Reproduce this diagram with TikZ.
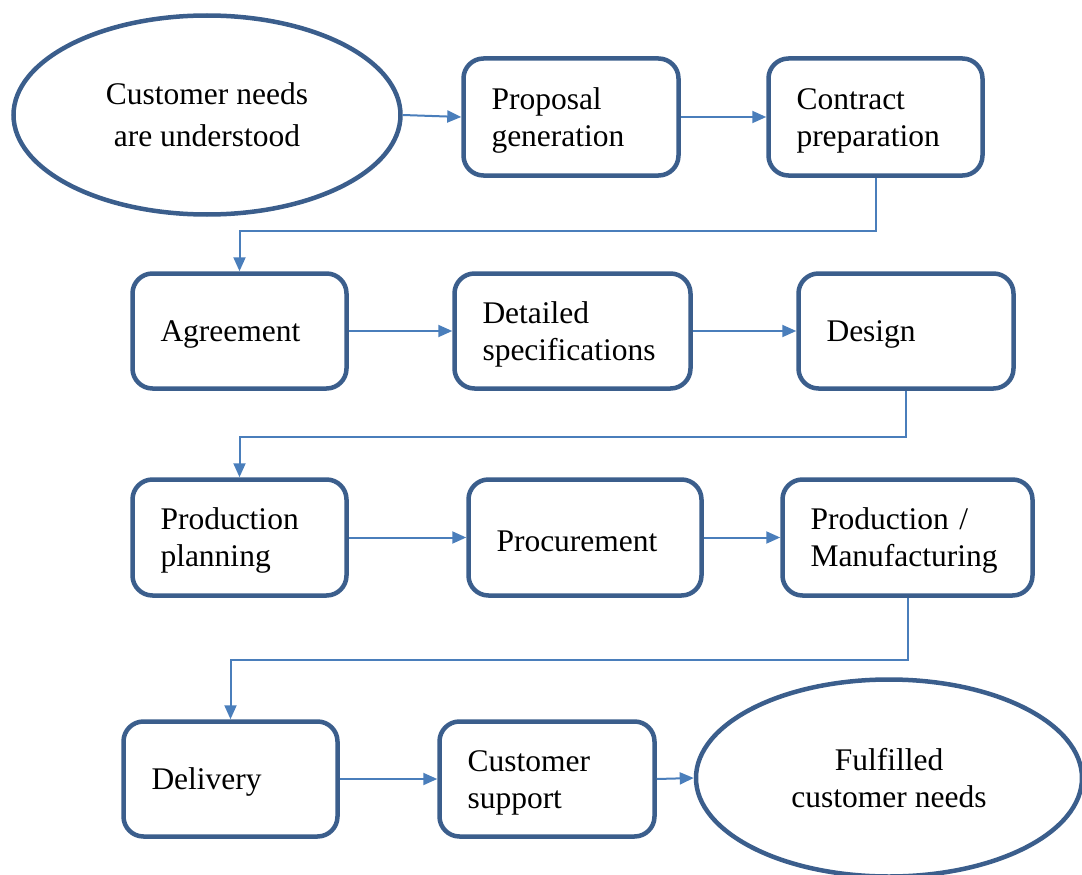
\documentclass[tikz,border=0pt]{standalone}
\usepackage{fontspec}
\setmainfont{Liberation Serif}
\usetikzlibrary{arrows.meta,shapes.geometric}
\definecolor{boxc}{HTML}{3B5E8C}
\definecolor{conc}{HTML}{4A7EBB}
\tikzset{
  stepbox/.style={draw=boxc, line width=4.5pt, rounded corners=20pt, fill=white,
    align=left, inner xsep=28pt, inner ysep=0pt,
    execute at begin node={\rule{0pt}{28pt}},
    font=\fontsize{31.5}{37}\selectfont},
  ovalnode/.style={ellipse, draw=boxc, line width=4.5pt, fill=white, align=center,
    inner sep=0pt, font=\fontsize{31.5}{37}\selectfont},
  conn/.style={draw=conc, line width=2pt, -{Triangle[length=14pt,width=12pt]}}
}
\begin{document}
\begin{tikzpicture}[x=1pt,y=-1pt]
\useasboundingbox (0,0) rectangle (1082,875);
\node[ovalnode, minimum width=387pt, minimum height=199pt,
  font=\fontsize{31.5}{42}\selectfont] (ell1) at (207,115) {Customer needs\\are understood};
\node[stepbox, text width=159pt, minimum height=117pt] (proposal) at (571,117) {Proposal\\generation};
\node[stepbox, text width=158pt, minimum height=117pt] (contract) at (875.5,117) {Contract\\preparation};

\node[stepbox, text width=158pt, minimum height=115pt] (agreement) at (239.5,331) {Agreement};
\node[stepbox, text width=180pt, minimum height=115pt] (detailed) at (572.5,331) {Detailed\\specifications};
\node[stepbox, text width=159pt, minimum height=115pt] (design) at (906,331) {Design};

\node[stepbox, text width=158pt, minimum height=116pt] (planning) at (239.5,537.5) {Production\\planning};
\node[stepbox, text width=177pt, minimum height=116pt] (procurement) at (585,537.5) {Procurement};
\node[stepbox, text width=194pt, minimum height=116pt] (manufacturing) at (907.5,537.5) {Production /\\Manufacturing};

\node[stepbox, text width=158pt, minimum height=115pt] (delivery) at (230.5,779) {Delivery};
\node[stepbox, text width=159pt, minimum height=115pt] (support) at (547,779) {Customer\\support};
\node[ovalnode, minimum width=386pt, minimum height=197pt] (ell2) at (889,778) {Fulfilled\\customer needs};

\draw[conn] (ell1.east) -- (proposal.west);
\draw[conn] (proposal.east) -- (contract.west);
\draw[conn] (contract.south) -- ++(0,53) -| (agreement.north);
\draw[conn] (agreement.east) -- (detailed.west);
\draw[conn] (detailed.east) -- (design.west);
\draw[conn] (design.south) -- ++(0,46) -| (planning.north);
\draw[conn] (planning.east) -- (procurement.west);
\draw[conn] (procurement.east) -- (manufacturing.west);
\draw[conn] (manufacturing.south) -- ++(0,62) -| (delivery.north);
\draw[conn] (delivery.east) -- (support.west);
\draw[conn] (support.east) -- (ell2.west);
\end{tikzpicture}
\end{document}
